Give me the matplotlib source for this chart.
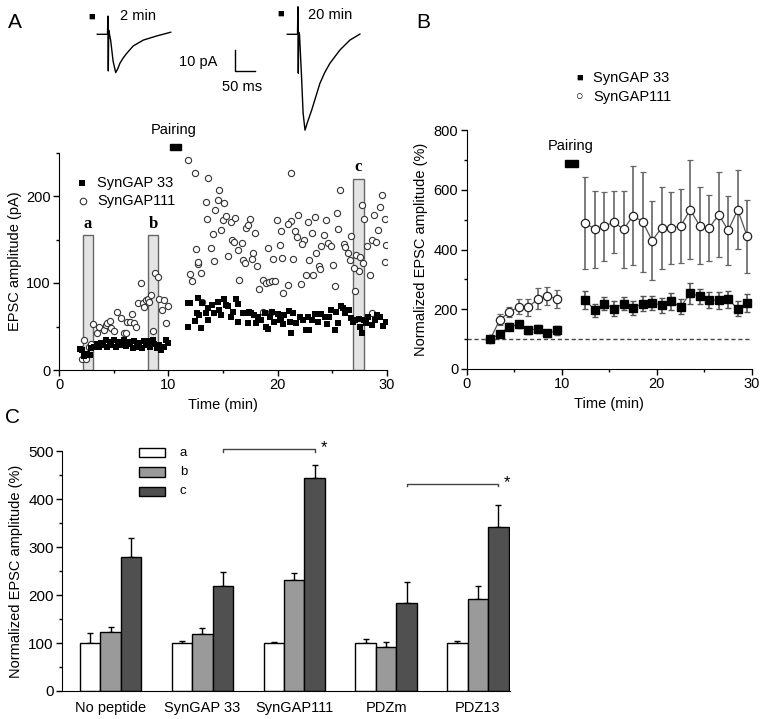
import matplotlib
matplotlib.use("Agg")
import matplotlib.pyplot as plt
from matplotlib.patches import Rectangle

plt.rcParams['font.family'] = ['Liberation Sans', 'DejaVu Sans']
plt.rcParams['font.size'] = 10

# ============================================================
# DATA
# ============================================================

# panel A - example traces (ms from stimulus, pA from baseline)
trace2min_t = [-27.5, -2, -1, 0, 1, 3, 6, 12, 18.5, 24, 29, 37, 46, 62.5, 87.5, 121, 156]
trace2min_i = [0, 0, 8.8, -17.7, 2, 0, -3, -13, -18.5, -16.5, -14, -11.5, -9.2, -5.6, -2.8, -0.8, 1.0]
trace20min_t = [-27.5, -2, -1, 0, 1, 3, 8, 12, 16.75, 22, 33.5, 44, 54, 66, 79, 104, 129, 154]
trace20min_i = [0, 0, 13.3, -18.8, 1, 0, -20, -38, -46.3, -43, -36.6, -30, -23.7, -18.5, -14, -7.6, -2.8, 0.1]

# panel A - single experiment amplitudes
s33_pre_t = [1.93, 2.14, 2.3, 2.6, 2.84, 2.97, 3.2, 3.45, 3.67, 3.82, 4.07, 4.28, 4.43, 4.68,
             4.8, 5.05, 5.2, 5.4, 5.66, 5.9, 6.1, 6.27, 6.5, 6.73, 6.88, 7.1, 7.34, 7.55, 7.74,
             7.95, 8.16, 8.35, 8.56, 8.72, 8.96, 9.17, 9.33, 9.57, 9.8, 10.0]
s33_pre_v = [24, 23, 16, 18, 17, 25, 27, 30, 27, 31, 29, 34, 27, 32,
             29, 34, 26, 32, 29, 35, 28, 32, 30, 25, 33, 27, 31, 25, 33,
             29, 33, 27, 35, 30, 25, 29, 23, 27, 34, 31]
s33_post_t = [11.8, 12.0, 11.8, 12.7, 12.6, 12.4, 13.0, 12.8, 13.1, 13.4, 13.6, 13.6, 14.0, 14.2,
              14.5, 14.6, 14.8, 15.1, 15.3, 15.5, 15.7, 15.9, 16.2, 16.4, 16.4, 16.8, 17.0, 17.3,
              17.4, 17.6, 17.8, 18.0, 18.2, 18.5, 18.8, 18.9, 19.1, 19.3, 19.5, 19.7, 20.0, 20.2,
              20.5, 20.3, 20.6, 21.0, 21.1, 21.4, 21.25, 21.7, 22.0, 22.3, 22.6, 22.85, 22.8, 23.1,
              23.4, 23.7, 24.0, 24.3, 24.5, 24.7, 24.9, 25.2, 25.3, 25.5, 25.8, 26.0, 26.2, 26.5,
              26.7, 26.9, 27.1, 27.4, 27.5, 27.75, 27.9, 28.05, 28.3, 28.6, 28.9, 29.1, 29.4, 29.6, 29.9]
s33_post_v = [77, 77, 49, 83, 65, 56, 48, 63, 77, 65, 71, 57, 75, 65,
              78, 69, 63, 82, 75, 73, 61, 67, 82, 76, 55, 66, 66, 54,
              67, 65, 63, 54, 61, 57, 65, 49, 47, 61, 67, 55, 64, 57,
              53, 57, 63, 68, 55, 65, 43, 54, 61, 57, 46, 46, 61, 57,
              64, 55, 64, 61, 53, 61, 69, 46, 67, 54, 73, 71, 65, 69,
              60, 55, 57, 59, 50, 43, 57, 54, 61, 52, 57, 63, 61, 51, 55]

s111_pre_t = [2.14, 2.5, 2.3, 2.75, 2.9, 3.12, 3.5, 3.67, 4.1, 4.28, 4.4, 4.7, 4.8, 5.05,
              5.26, 5.66, 5.9, 6.1, 6.2, 6.5, 6.67, 6.88, 7.03, 7.25, 7.5, 7.65, 7.8, 7.95,
              8.16, 8.25, 8.4, 8.6, 8.77, 9.02, 9.17, 9.39, 9.57, 9.8, 10.0]
s111_pre_v = [13, 13, 34, 27, 30, 53, 42, 50, 46, 52, 54, 56, 48, 45,
              67, 60, 42, 42, 55, 55, 64, 54, 49, 77, 100, 77, 72, 80,
              82, 78, 86, 45, 112, 107, 82, 69, 80, 54, 73]
s111_post_t = [11.83, 12.4, 13.6, 14.6, 13.4, 14.5, 15.1, 13.5, 14.3, 15.0, 15.3, 15.7, 16.1, 14.8,
               14.1, 13.9, 12.5, 12.7, 12.75, 12.0, 12.2, 13.0, 14.2, 15.5, 15.8, 16.0, 16.4, 16.7,
               16.85, 17.0, 16.5, 17.1, 17.25, 17.5, 17.95, 17.7, 17.65, 18.1, 18.3, 18.65, 18.95,
               19.2, 19.5, 19.8, 19.1, 19.6, 19.9, 20.3, 20.2, 20.4, 20.5, 21.25, 25.7, 29.5, 27.7,
               29.4, 25.4, 28.8, 29.8, 27.9, 23.4, 22.8, 21.9, 21.2, 20.9, 24.4, 25.5, 26.7, 29.2,
               21.6, 23.1, 21.8, 22.4, 24.25, 24.6, 24.9, 24.0, 22.2, 26.1, 26.2, 26.4, 23.55, 28.2,
               28.6, 28.95, 27.2, 27.5, 27.8, 27.4, 27.0, 26.6, 25.1, 23.8, 23.85, 22.9, 23.2, 22.6,
               21.4, 22.1, 20.95, 25.2, 28.4, 27.1, 29.8, 28.65, 29.9, 13.1, 18.65, 19.4]
s111_post_v = [241, 226, 221, 207, 193, 195, 192, 174, 184, 172, 177, 170, 175, 161,
               156, 140, 139, 122, 124, 110, 102, 112, 125, 131, 150, 147, 138, 146,
               126, 123, 103, 163, 167, 174, 157, 135, 128, 119, 93, 103, 100,
               101, 102, 102, 140, 128, 172, 160, 144, 129, 88, 227, 207, 201, 190,
               187, 180, 178, 174, 173, 176, 170, 178, 171, 168, 172, 162, 154, 161,
               160, 157, 153, 150, 155, 146, 142, 142, 145, 145, 141, 134, 135, 142,
               149, 147, 132, 130, 123, 114, 117, 126, 121, 120, 116, 126, 109, 109,
               128, 99, 98, 97, 109, 91, 124, 65, 144, 78, 67, 67]

# analysis windows a, b, c
win_labels = ['a', 'b', 'c']
win_start = [2.2, 8.1, 26.9]
win_end = [3.1, 9.1, 27.9]
win_top = [155, 155, 220]

# panel B - group means (%)
tB_pre = [2.5, 3.5, 4.5, 5.5, 6.5, 7.5, 8.5, 9.5]
tB_post = [12.5, 13.5, 14.5, 15.5, 16.5, 17.5, 18.5, 19.5, 20.5, 21.5, 22.5, 23.5,
           24.5, 25.5, 26.5, 27.5, 28.5, 29.5]
b33_pre = [100, 117, 142, 149, 130, 134, 119, 129]
b33_pre_err = [0, 6, 12, 12, 12, 12, 12, 15]
b33_post = [230, 197, 219, 202, 219, 204, 219, 221, 214, 226, 208, 253,
            244, 231, 230, 233, 202, 222]
b33_post_err = [30, 22, 22, 25, 22, 22, 25, 22, 25, 28, 25, 35,
                25, 28, 28, 28, 25, 30]
b111_pre = [100, 165, 190, 209, 207, 235, 245, 234]
b111_pre_err = [0, 18, 17, 25, 28, 35, 30, 30]
b111_post = [489, 467, 478, 492, 467, 513, 493, 430, 472, 472, 478, 533,
             480, 472, 517, 464, 533, 444]
b111_post_err = [155, 128, 115, 105, 130, 165, 168, 133, 138, 121, 124, 165,
                 129, 110, 143, 116, 132, 121]

# panel C - summary
groups = ['No peptide', 'SynGAP 33', 'SynGAP111', 'PDZm', 'PDZ13']
bar_labels = ['a', 'b', 'c']
vals_a = [100, 100, 100, 100, 100]
err_a = [20, 5, 2, 9, 4]
vals_b = [124, 118, 232, 91, 191]
err_b = [9, 14, 14, 11, 28]
vals_c = [280, 219, 445, 183, 342]
err_c = [40, 30, 27, 44, 47]
sig_pairs = [(1, 2), (3, 4)]
sig_heights = [505, 433]

# ============================================================
# FIGURE
# ============================================================

W, H = 764, 719
fig = plt.figure(figsize=(W / 100, H / 100), dpi=100)


def fx(x):
    return x / W


def fy(y):
    return 1 - y / H


def box(l, t, r, b):
    return [fx(l), fy(b), (r - l) / W, (b - t) / H]


def style(ax):
    for s in ['top', 'right']:
        ax.spines[s].set_visible(False)
    ax.tick_params(direction='out', length=4, width=1, labelsize=10.5, pad=2)
    ax.tick_params(which='minor', direction='out', length=2.5, width=1)


# ------------------------------------------------------------
# A - traces
# ------------------------------------------------------------
axT = fig.add_axes(box(85, 0, 370, 140))
axT.axis('off')
axT.set_xlim(0, (370 - 85) * 2.5)
axT.set_ylim((34.3 - 140) * 0.483, 34.3 * 0.483)
off1 = (108.3 - 85) * 2.5
off2 = (298.3 - 85) * 2.5
axT.plot([t + off1 for t in trace2min_t], trace2min_i, color='black', lw=1)
axT.plot([t + off2 for t in trace20min_t], trace20min_i, color='black', lw=1)
# scale bar 10 pA / 50 ms
axT.plot([375, 375, 425], [-7.6, -17.6, -17.6], color='black', lw=1)

fig.text(fx(91.7), fy(16.7), '\u25A0', fontsize=8, ha='center', va='center')
fig.text(fx(281), fy(14), '\u25A0', fontsize=8, ha='center', va='center')
fig.text(fx(120), fy(16), '2 min', fontsize=10.5, va='center')
fig.text(fx(308), fy(15), '20 min', fontsize=10.5, va='center')
fig.text(fx(198), fy(62), '10 pA', fontsize=10.5, ha='center', va='center')
fig.text(fx(242), fy(87), '50 ms', fontsize=10.5, ha='center', va='center')

fig.text(fx(15), fy(23), 'A', fontsize=15, ha='center', va='center')
fig.text(fx(423), fy(23), 'B', fontsize=15, ha='center', va='center')
fig.text(fx(12), fy(417), 'C', fontsize=15, ha='center', va='center')

# ------------------------------------------------------------
# A - scatter
# ------------------------------------------------------------
axA = fig.add_axes(box(59, 152.5, 387, 370))
style(axA)
axA.set_xlim(0, 30)
axA.set_ylim(0, 250)
axA.set_xticks([0, 10, 20, 30])
axA.set_xticks([5, 15, 25], minor=True)
axA.set_yticks([0, 100, 200])
axA.set_yticks([50, 150, 250], minor=True)

for lab, x0, x1, top in zip(win_labels, win_start, win_end, win_top):
    axA.add_patch(Rectangle((x0, 0), x1 - x0, top, facecolor='#e4e4e4',
                            edgecolor='#666666', lw=1, zorder=1))
    axA.text((x0 + x1) / 2, top + 4, lab, family=['Liberation Serif', 'DejaVu Serif'],
             weight='bold', fontsize=12, ha='center', va='bottom')

axA.scatter(s111_pre_t + s111_post_t, s111_pre_v + s111_post_v, s=20, marker='o',
            facecolor='white', edgecolor='#333333', lw=0.8, zorder=3)
axA.scatter(s33_pre_t + s33_post_t, s33_pre_v + s33_post_v, s=14, marker='s',
            color='black', lw=0, zorder=4)

axA.set_xlabel('Time (min)', fontsize=10.5, labelpad=4)
axA.set_ylabel('EPSC amplitude (pA)', fontsize=10.5, labelpad=3)

axA.add_patch(Rectangle((10.15, 253), 1.05, 7, color='black', clip_on=False))
axA.text(10.5, 268, 'Pairing', fontsize=10.5, ha='center', va='bottom')

axA.scatter([2.1], [215], s=18, marker='s', color='black', lw=0, clip_on=False)
axA.text(3.5, 215, 'SynGAP 33', fontsize=10.5, va='center')
axA.scatter([2.2], [194], s=22, marker='o', facecolor='white', edgecolor='#333333', lw=0.8)
axA.text(3.5, 194, 'SynGAP111', fontsize=10.5, va='center')

# ------------------------------------------------------------
# B - group time course
# ------------------------------------------------------------
axB = fig.add_axes(box(466.5, 130, 752, 369))
style(axB)
axB.set_xlim(0, 30)
axB.set_ylim(0, 800)
axB.set_xticks([0, 10, 20, 30])
axB.set_xticks([5, 15, 25], minor=True)
axB.set_yticks([0, 200, 400, 600, 800])
axB.set_yticks([100, 300, 500, 700], minor=True)
axB.axhline(100, color='#444444', lw=1, ls=(0, (3, 2)), zorder=1)

for tt, vv, ee in [(tB_pre, b111_pre, b111_pre_err), (tB_post, b111_post, b111_post_err)]:
    axB.errorbar(tt, vv, yerr=ee, fmt='-o', color='#555555', ecolor='#666666',
                 elinewidth=1.2, capsize=2, capthick=1, ms=6, mfc='white', mec='#222222',
                 mew=0.9, lw=0.9, zorder=3)
for tt, vv, ee in [(tB_pre, b33_pre, b33_pre_err), (tB_post, b33_post, b33_post_err)]:
    axB.errorbar(tt, vv, yerr=ee, fmt='-s', color='#555555', ecolor='#555555',
                 elinewidth=1.2, capsize=2, capthick=1, ms=5.5, mfc='black', mec='black',
                 lw=0.9, zorder=4)

axB.set_xlabel('Time (min)', fontsize=10.5, labelpad=4)
axB.set_ylabel('Normalized EPSC amplitude (%)', fontsize=10.5, labelpad=4)
axB.add_patch(Rectangle((10.3, 676), 1.45, 22, color='black', clip_on=False))
axB.text(10.9, 722, 'Pairing', fontsize=10.5, ha='center', va='bottom')

fig.text(fx(580), fy(78), '\u25A0', fontsize=8, ha='center', va='center')
fig.text(fx(593), fy(78), 'SynGAP 33', fontsize=10.5, va='center')
fig.text(fx(580), fy(97), '\u25CB', fontsize=9, ha='center', va='center')
fig.text(fx(593), fy(97), 'SynGAP111', fontsize=10.5, va='center')

# ------------------------------------------------------------
# C - summary bars
# ------------------------------------------------------------
axC = fig.add_axes(box(62, 451.4, 510, 691))
style(axC)
axC.set_xlim(-0.53, 4.35)
axC.set_ylim(0, 500)
axC.set_yticks([0, 100, 200, 300, 400, 500])
axC.set_yticks([50, 150, 250, 350, 450], minor=True)

bw = 0.223
xs = list(range(len(groups)))
colors = ['white', '#9a9a9a', '#505050']
for k, (vals, errs) in enumerate([(vals_a, err_a), (vals_b, err_b), (vals_c, err_c)]):
    pos = [x + (k - 1) * bw for x in xs]
    axC.bar(pos, vals, width=bw, color=colors[k], edgecolor='black', lw=1, zorder=2)
    axC.errorbar(pos, vals, yerr=[[0] * len(vals), errs], fmt='none', ecolor='black',
                 elinewidth=1, capsize=2, capthick=1, zorder=1)

axC.set_xticks(xs)
axC.set_xticklabels(groups, fontsize=10.5)
axC.tick_params(axis='x', length=0, pad=7)
axC.tick_params(axis='y', labelsize=11)
axC.set_ylabel('Normalized EPSC amplitude (%)', fontsize=10.5, labelpad=4)

for (g1, g2), h in zip(sig_pairs, sig_heights):
    x1 = g1 + bw
    x2 = g2 + bw
    axC.plot([x1, x1, x2, x2], [h - 6, h, h, h - 6], color='#444444', lw=1, clip_on=False)
    axC.text(x2 + 0.06, h + 2, '*', fontsize=12, ha='left', va='center')

for k, lab in enumerate(bar_labels):
    yy = 452.7 + k * 19.4
    fig.patches.append(Rectangle((fx(139), fy(yy + 4.7)), 26 / W, 9.4 / H,
                                 facecolor=colors[k], edgecolor='black', lw=1,
                                 transform=fig.transFigure, figure=fig))
    fig.text(fx(180), fy(yy), lab, fontsize=9.5, ha='left', va='center')

plt.savefig('out.png', dpi=100)
